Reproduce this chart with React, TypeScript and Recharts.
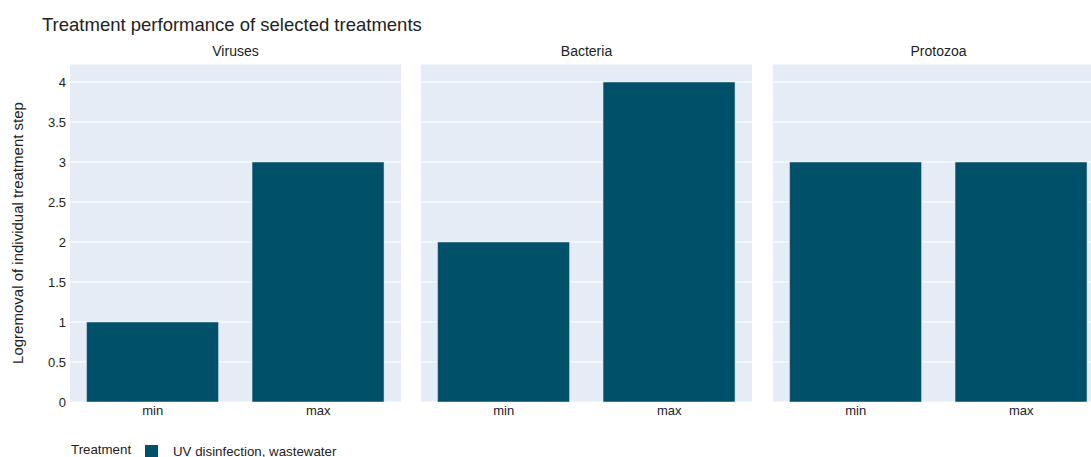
import { Bar, BarChart, CartesianGrid, XAxis, YAxis } from 'recharts';

const categories = ['min', 'max'];
const panels = ['Viruses', 'Bacteria', 'Protozoa'];
const viruses = [1, 3];
const bacteria = [2, 4];
const protozoa = [3, 3];
const yTicks = [0, 0.5, 1, 1.5, 2, 2.5, 3, 3.5, 4];

const BAR = '#00506A';
const BG = '#E5ECF6';
const TEXT = '#222';
const FONT = '"Liberation Sans", Arial, sans-serif';

const series = [viruses, bacteria, protozoa];
const rows = (vals: number[]) => categories.map((c, i) => ({ cat: c, value: vals[i] }));

const PLOT_W = 331;
const panelLeft = [70, 421, 773];

function Panel({ index }: { index: number }) {
  const withAxis = index === 0;
  const yw = withAxis ? 70 : 0;
  return (
    <div style={{ position: 'absolute', left: panelLeft[index] - yw, top: 0 }}>
      <BarChart
        width={PLOT_W + yw}
        height={457}
        data={rows(series[index])}
        margin={{ top: 64, right: 0, bottom: 35, left: 0 }}
        barCategoryGap="10%"
      >
        <CartesianGrid fill={BG} stroke="#fff" vertical={false} strokeWidth={1} />
        <XAxis
          dataKey="cat"
          height={20}
          axisLine={false}
          tickLine={false}
          tickSize={0}
          tickMargin={4}
          tick={{ fill: TEXT, fontSize: 13, fontFamily: FONT }}
        />
        <YAxis
          hide={!withAxis}
          width={yw}
          domain={[0, 4.225]}
          ticks={yTicks}
          allowDataOverflow
          axisLine={false}
          tickLine={false}
          tickSize={0}
          tickMargin={4}
          tick={{ fill: TEXT, fontSize: 13, fontFamily: FONT }}
          label={
            withAxis
              ? {
                  value: 'Logremoval of individual treatment step',
                  angle: -90,
                  position: 'insideLeft',
                  offset: 18,
                  style: { textAnchor: 'middle', fill: TEXT, fontSize: 15, fontFamily: FONT },
                }
              : undefined
          }
        />
        <Bar dataKey="value" fill={BAR} stroke={BG} strokeWidth={0.5} isAnimationActive={false} />
      </BarChart>
      <div
        style={{
          position: 'absolute',
          left: yw,
          top: 43,
          width: PLOT_W,
          textAlign: 'center',
          fontFamily: FONT,
          fontSize: 14,
          color: TEXT,
        }}
      >
        {panels[index]}
      </div>
    </div>
  );
}

export default function App() {
  return (
    <div
      style={{
        position: 'absolute',
        left: 0,
        top: 0,
        width: 1091,
        height: 457,
        overflow: 'hidden',
        background: '#fff',
        fontFamily: FONT,
      }}
    >
      <div style={{ position: 'absolute', left: 42, top: 14, fontSize: 18.5, color: TEXT }}>
        Treatment performance of selected treatments
      </div>
      {panels.map((_, i) => (
        <Panel key={i} index={i} />
      ))}
      <div style={{ position: 'absolute', left: 71, top: 442, fontSize: 13.3, color: TEXT }}>Treatment</div>
      <div style={{ position: 'absolute', left: 145, top: 445, width: 13, height: 13, background: BAR }} />
      <div style={{ position: 'absolute', left: 173, top: 444, fontSize: 13.3, color: TEXT }}>
        UV disinfection, wastewater
      </div>
    </div>
  );
}
